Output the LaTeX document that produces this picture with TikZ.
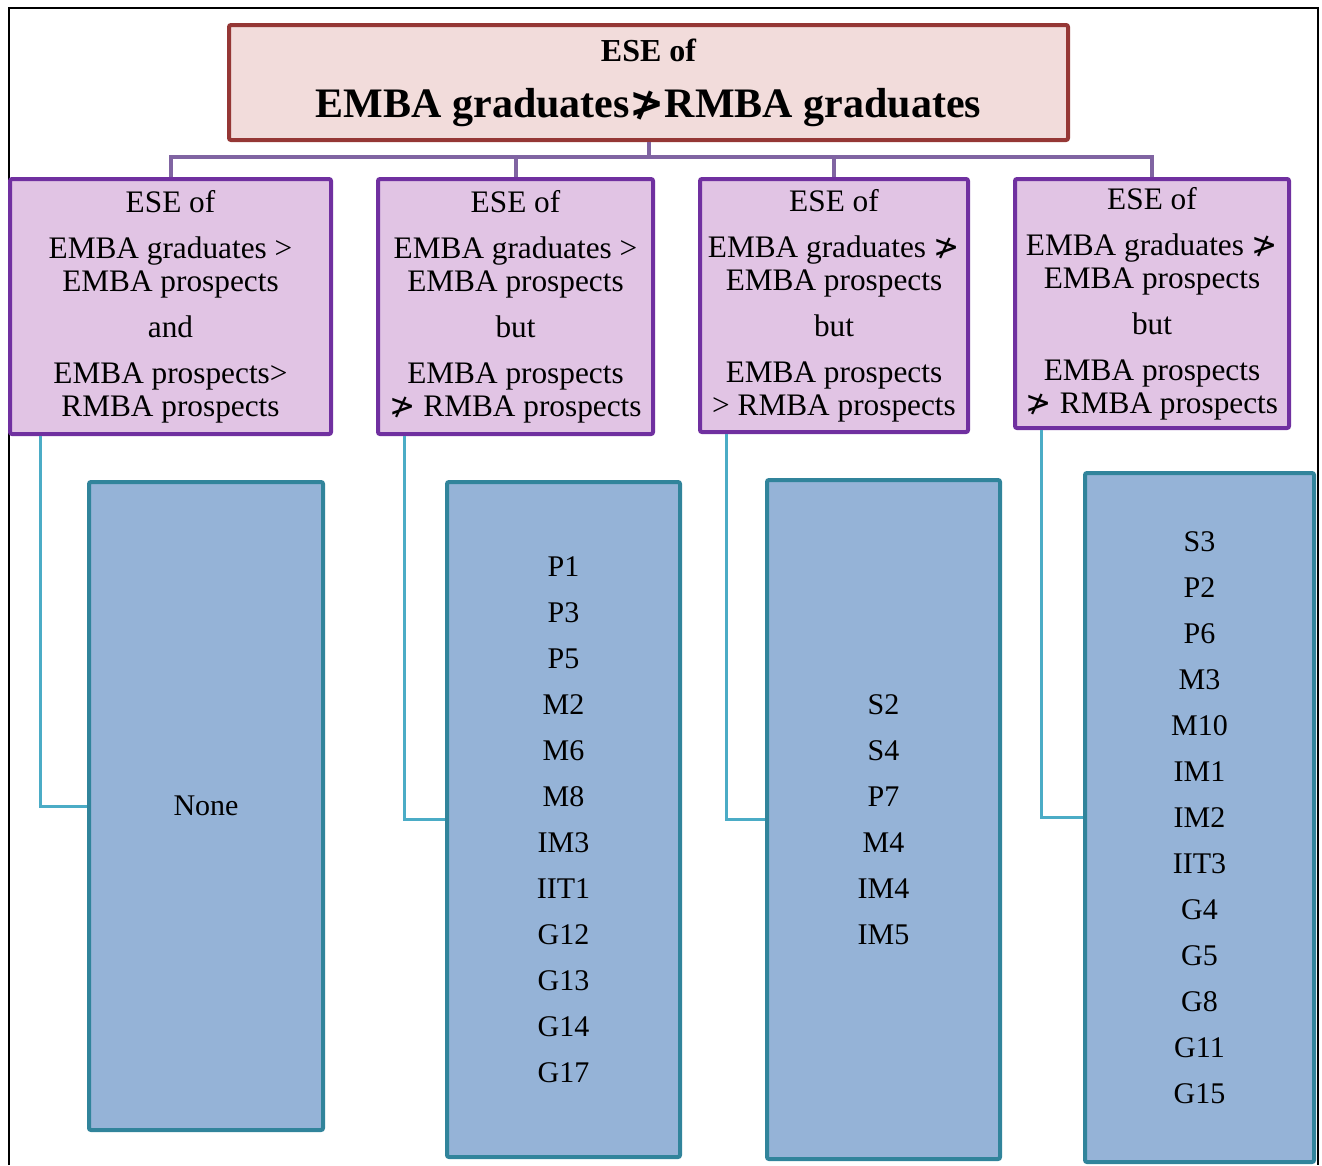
\documentclass[tikz,border=0pt]{standalone}
\usepackage{fontspec}
\setmainfont{Liberation Serif}
\newfontfamily\relfont{DejaVu Sans}
\newcommand{\notgt}{{\relfont ≯}}
\usetikzlibrary{positioning}
\definecolor{titlefill}{HTML}{F2DCDB}
\definecolor{titleline}{HTML}{953735}
\definecolor{trunkline}{HTML}{8064A2}
\definecolor{esefill}{HTML}{E1C4E4}
\definecolor{eseline}{HTML}{7030A0}
\definecolor{listfill}{HTML}{95B3D7}
\definecolor{listline}{HTML}{31849B}
\definecolor{feedline}{HTML}{4BACC6}
\tikzset{
    titlebox/.style={
        draw=titleline,
        fill=titlefill,
        line width=4pt,
        rounded corners=2pt,
        inner sep=0pt,
        align=center,
        font=\bfseries\fontsize{32}{56}\selectfont
    },
    esebox/.style={
        draw=eseline,
        fill=esefill,
        line width=4pt,
        rounded corners=2pt,
        inner sep=0pt,
        align=center,
        font=\fontsize{31.3}{33}\selectfont
    },
    listbox/.style={
        draw=listline,
        fill=listfill,
        line width=4pt,
        rounded corners=2pt,
        inner sep=0pt,
        align=center,
        font=\fontsize{30}{46}\selectfont
    },
    trunk/.style={
        draw=trunkline,
        line width=4pt
    },
    feed/.style={
        draw=feedline,
        line width=3pt
    }
}

\begin{document}
\begin{tikzpicture}[x=1pt, y=-1pt]
            \useasboundingbox (0,0) rectangle (1322,1165);
            % Frame
            \draw [line width=2.5pt] (9,1165) -- (9,8) -- (1318,8) -- (1318,1165);

            % Top
            \node (title) [
                titlebox,
                minimum width=839pt,
                minimum height=115pt,
            ] at (648.5,82.5) {ESE of\\{\fontsize{42}{48}\selectfont EMBA graduates\notgt RMBA graduates}};

            % Second level
            \node (eseA) [
                esebox,
                minimum width=321pt,
                minimum height=255pt,
            ] at (170.5,306.5) {ESE of\\[13pt]EMBA graduates >\\EMBA prospects\\[13pt]and\\[13pt]EMBA prospects>\\RMBA prospects};
            \node (eseB) [
                esebox,
                minimum width=275pt,
                minimum height=255pt,
            ] at (515.5,306.5) {ESE of\\[13pt]EMBA graduates >\\EMBA prospects\\[13pt]but\\[13pt]EMBA prospects\\\notgt{} RMBA prospects};
            \node (eseC) [
                esebox,
                minimum width=268pt,
                minimum height=253pt,
            ] at (834,305.5) {ESE of\\[13pt]EMBA graduates \notgt\\EMBA prospects\\[13pt]but\\[13pt]EMBA prospects\\> RMBA prospects};
            \node (eseD) [
                esebox,
                minimum width=274pt,
                minimum height=249pt,
            ] at (1152,303.5) {ESE of\\[13pt]EMBA graduates \notgt\\EMBA prospects\\[13pt]but\\[13pt]EMBA prospects\\\notgt{} RMBA prospects};

            % Lists
            \node (listA) [
                listbox,
                minimum width=234pt,
                minimum height=648pt,
            ] at (206,806) {None};
            \node (listB) [
                listbox,
                minimum width=233pt,
                minimum height=675pt,
            ] at (563.5,819.5) {P1\\P3\\P5\\M2\\M6\\M8\\IM3\\IIT1\\G12\\G13\\G14\\G17};
            \node (listC) [
                listbox,
                minimum width=233pt,
                minimum height=679pt,
            ] at (883.5,819.5) {S2\\S4\\P7\\M4\\IM4\\IM5};
            \node (listD) [
                listbox,
                minimum width=229pt,
                minimum height=689pt,
            ] at (1199.5,817.5) {S3\\P2\\P6\\M3\\M10\\IM1\\IM2\\IIT3\\G4\\G5\\G8\\G11\\G15};

            % Connectors
            \draw [trunk] (title.south) -- ++(0,15) -| (eseA.north);
            \draw [trunk] (title.south) -- ++(0,15) -| (eseB.north);
            \draw [trunk] (title.south) -- ++(0,15) -| (eseC.north);
            \draw [trunk] (title.south) -- ++(0,15) -| (eseD.north);

            \draw [feed] ([xshift=32pt]eseA.south west) |- (listA.west);
            \draw [feed] ([xshift=28pt]eseB.south west) |- (listB.west);
            \draw [feed] ([xshift=28pt]eseC.south west) |- (listC.west);
            \draw [feed] ([xshift=28pt]eseD.south west) |- (listD.west);
\end{tikzpicture}
\end{document}
